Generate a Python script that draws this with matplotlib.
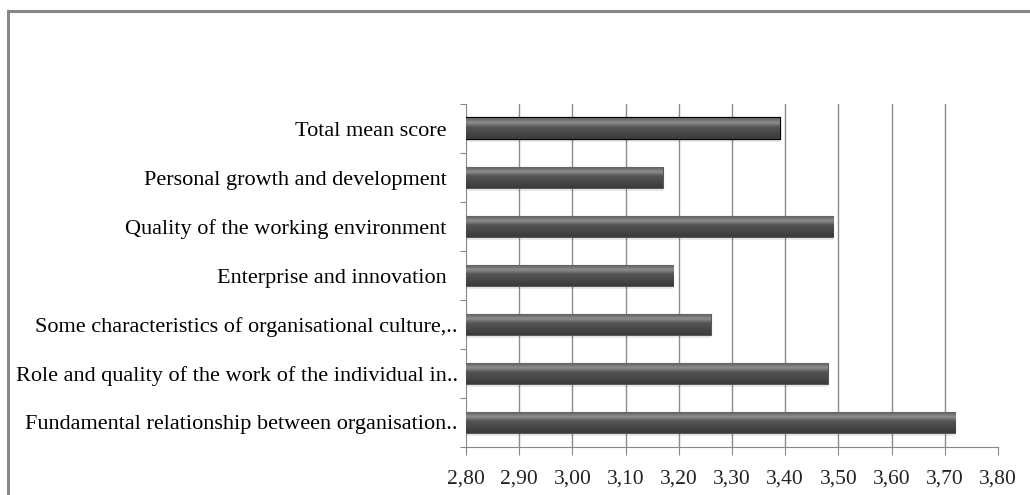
import numpy as np
import matplotlib
matplotlib.use('Agg')
from matplotlib import pyplot as plt
from matplotlib.lines import Line2D
from matplotlib.colors import LinearSegmentedColormap

# data, bottom to top as drawn
categories = ['Fundamental relationship between organisation..',
              'Role and quality of the work of the individual in..',
              'Some characteristics of organisational culture,..',
              'Enterprise and innovation  ',
              'Quality of the working environment  ',
              'Personal growth and development  ',
              'Total mean score  ']
scores = [3.72, 3.48, 3.26, 3.19, 3.49, 3.17, 3.39]
xticks = [2.8, 2.9, 3.0, 3.1, 3.2, 3.3, 3.4, 3.5, 3.6, 3.7, 3.8]

plt.rcParams['font.family'] = ['Liberation Serif', 'DejaVu Serif']

fig = plt.figure(figsize=(10.3, 4.95), dpi=100)
ax = fig.add_axes([466/1030, 48/495, 532/1030, 343/495])

# outer frame, only left and top visible
fig.add_artist(Line2D([8/1030, 8/1030], [0, 484/495], color='#888888', lw=2.2))
fig.add_artist(Line2D([8/1030, 1], [484/495, 484/495], color='#888888', lw=2.2))

ypos = np.arange(len(categories))
h = 0.43
bars = ax.barh(ypos, np.array(scores) - 2.8, left=2.8, height=h,
               color='#555555', edgecolor='#5a5a5a', lw=0.8, zorder=3)
bars[-1].set_edgecolor('black')
bars[-1].set_linewidth(1.6)

# bevel like shading
cmap = LinearSegmentedColormap.from_list('bev', [(0, '#3a3a3a'), (0.55, '#555555'),
                                                 (0.75, '#8f8f8f'), (0.88, '#707070'),
                                                 (1, '#5a5a5a')])
grad = np.linspace(0, 1, 64).reshape(-1, 1)
for b in bars:
    x0, y0 = b.get_x(), b.get_y()
    im = ax.imshow(grad, cmap=cmap, aspect='auto', origin='lower',
                   extent=[x0, x0 + b.get_width(), y0, y0 + b.get_height()],
                   zorder=3.5, interpolation='bilinear')
    im.set_clip_path(b)
    # faint shadow under the bar
    ax.barh(y0 + h/2 - 0.06, b.get_width(), left=x0, height=h, color='#000000',
            alpha=0.08, lw=0, zorder=2.5)

ax.set_xlim(2.8, 3.8)
ax.set_ylim(-0.5, len(categories) - 0.5)
ax.set_xticks(xticks)
ax.set_xticklabels([('%.2f' % v).replace('.', ',') for v in xticks], fontsize=15.5)
for v in xticks[1:-1]:
    ax.axvline(v, color='#8c8c8c', lw=1, zorder=1)

ax.set_yticks(np.arange(len(categories) + 1) - 0.5)
ax.set_yticklabels([])
ax.set_yticks(ypos, minor=True)
ax.set_yticklabels(categories, minor=True, fontsize=16)
ax.tick_params(axis='y', which='minor', length=0, pad=6)
ax.tick_params(axis='y', which='major', length=4, color='#888888')
ax.tick_params(axis='x', length=6, color='#888888', pad=10, labelcolor='#222222')

for s in ['top', 'right']:
    ax.spines[s].set_visible(False)
ax.spines['left'].set_color('#888888')
ax.spines['bottom'].set_color('#888888')

fig.savefig('out.png', dpi=100)
